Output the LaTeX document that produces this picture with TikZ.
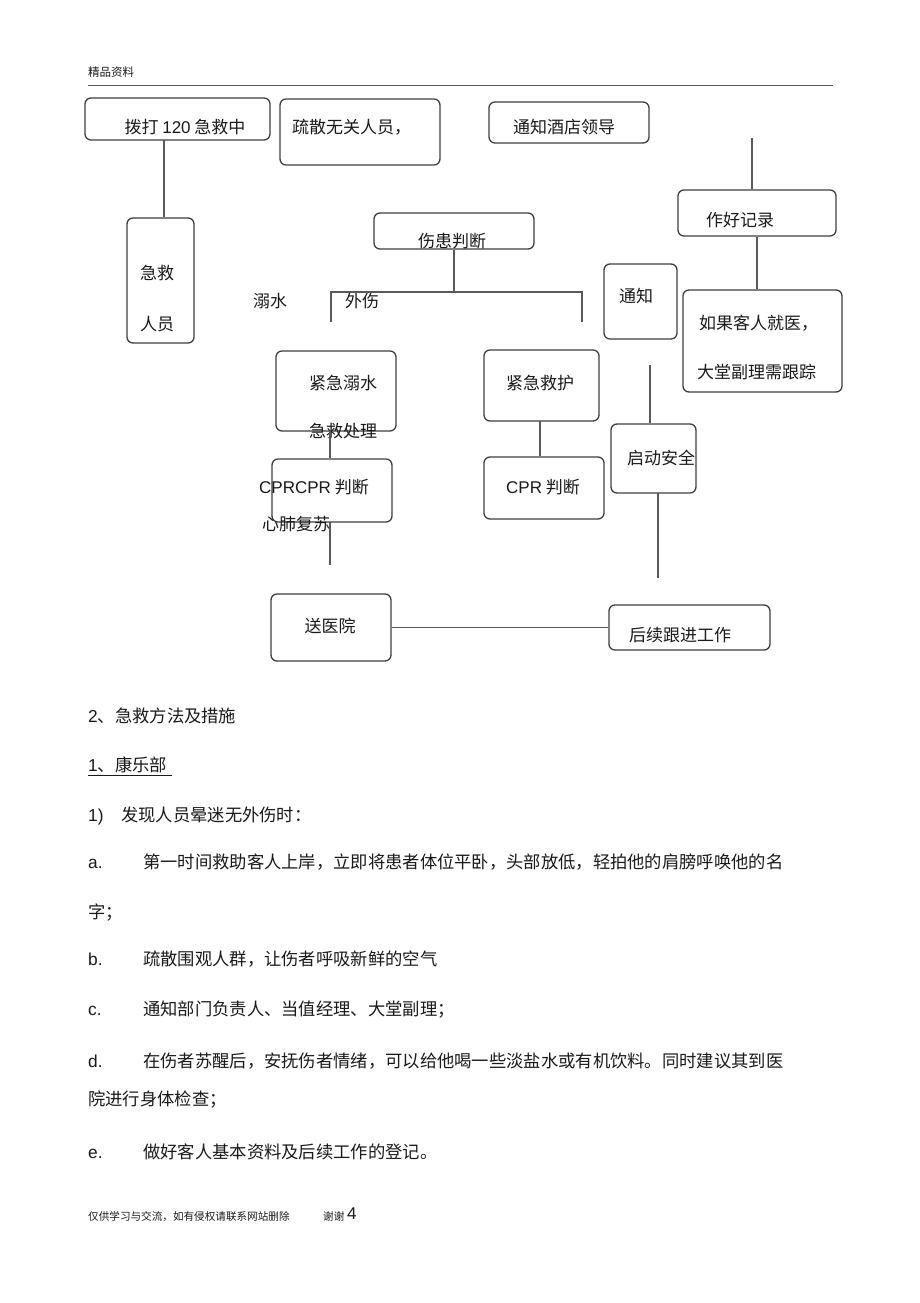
\documentclass[tikz,border=0pt]{standalone}
\usepackage{fontspec}
\setmainfont{Noto Sans CJK SC}
\newfontfamily\lat{Liberation Sans}
\definecolor{boxc}{HTML}{404040}
\definecolor{linec}{HTML}{5A5A5A}
\definecolor{txtc}{HTML}{1A1A1A}
\begin{document}
\begin{tikzpicture}[x=1pt,y=-1pt,
  box/.style={draw=boxc,line width=1.3pt,rounded corners=6pt,inner sep=0pt},
  conn/.style={draw=linec,line width=1.3pt},
  ct/.style={inner sep=0pt,text=txtc,text height=14pt,text depth=3pt,font=\fontsize{17}{20}\selectfont},
  bt/.style={inner sep=0pt,anchor=west,text=txtc,text height=14pt,text depth=3pt,font=\fontsize{17.3}{20}\selectfont},
  sm/.style={inner sep=0pt,anchor=west,text=txtc,text height=9pt,text depth=2pt,font=\fontsize{10.6}{12}\selectfont}]
\useasboundingbox[fill=white] (0,0) rectangle (920,1303);
% header
\node[sm,font=\fontsize{11.5}{13}\selectfont] (hdr) at (88,73) {精品资料};
\coordinate (hl) at (88,85); \coordinate (hr) at (833,85);
\draw[draw=linec,line width=0.8pt] (hl) -- (hr);
% boxes
\node[box,minimum width=185pt,minimum height=42pt] (b1) at (177.5,119) {};
\node[box,minimum width=160pt,minimum height=66pt] (b2) at (360,132) {};
\node[box,minimum width=160pt,minimum height=41pt] (b3) at (569,122.5) {};
\node[box,minimum width=67pt,minimum height=125pt] (jy) at (160.5,280.5) {};
\node[box,minimum width=158pt,minimum height=46pt] (rec) at (757,213) {};
\node[box,minimum width=159pt,minimum height=102pt] (fol) at (762.5,341) {};
\node[box,minimum width=160pt,minimum height=36pt] (judge) at (454,231) {};
\node[box,minimum width=73pt,minimum height=75pt] (notify) at (640.5,301.5) {};
\node[box,minimum width=120pt,minimum height=80pt] (drown) at (336,391) {};
\node[box,minimum width=120pt,minimum height=63pt] (cpr1) at (332,490.5) {};
\node[box,minimum width=115pt,minimum height=71pt] (emerg) at (541.5,385.5) {};
\node[box,minimum width=120pt,minimum height=62pt] (cpr2) at (544,488) {};
\node[box,minimum width=85pt,minimum height=69pt] (safe) at (653.5,458.5) {};
\node[box,minimum width=120pt,minimum height=67pt] (hosp) at (331,627.5) {};
\node[box,minimum width=161pt,minimum height=45pt] (follow) at (689.5,627.5) {};
% box texts
\node[ct] (t1) at (185,128) {拨打 {\lat 120} 急救中};
\node[ct,anchor=west] (t2) at (292,128) {疏散无关人员，};
\node[ct] (t3) at (564,128) {通知酒店领导};
\node[ct] (t4a) at (157,274) {急救};
\node[ct] (t4b) at (157,325) {人员};
\node[ct] (t5) at (740,221) {作好记录};
\node[ct,anchor=west] (t6a) at (699,324) {如果客人就医，};
\node[ct,anchor=west] (t6b) at (697,373) {大堂副理需跟踪};
\node[ct] (t7) at (452,242) {伤患判断};
\node[ct] (t8a) at (270,302) {溺水};
\node[ct] (t8b) at (362,302) {外伤};
\node[ct] (t9) at (636,297) {通知};
\node[ct] (t10a) at (343,384) {紧急溺水};
\node[ct] (t10b) at (343,432) {急救处理};
\node[ct,anchor=west] (t11a) at (259,488) {{\lat CPRCPR} 判断};
\node[ct,anchor=west] (t11b) at (262,525) {心肺复苏};
\node[ct] (t12) at (540,384) {紧急救护};
\node[ct] (t13) at (543,488) {{\lat CPR} 判断};
\node[ct,anchor=west] (t14) at (627,459) {启动安全};
\node[ct] (t15) at (330,627) {送医院};
\node[ct] (t16) at (680,636) {后续跟进工作};
% connectors
\coordinate (c0) at (164,140);
\draw[conn] (c0) -- (c0 |- jy.north);
\coordinate (c1) at (752,138);
\draw[conn] (c1) -- (c1 |- rec.north);
\draw[conn] (rec.south) -- (rec.south |- fol.north);
\coordinate (br) at (454,292);
\coordinate (bl) at (331,322);
\coordinate (brr) at (582,322);
\draw[conn] (judge.south) -- (br);
\draw[conn] (bl) |- (br) -| (brr);
\coordinate (c2) at (330,431);
\draw[conn] (c2) -- (c2 |- cpr1.north);
\coordinate (c3) at (330,522);
\coordinate (c4) at (330,565);
\draw[conn] (c3) -- (c4);
\coordinate (c8) at (540,421);
\draw[conn] (c8) -- (c8 |- cpr2.north);
\coordinate (c5) at (650,365);
\draw[conn] (c5) -- (c5 |- safe.north);
\coordinate (c6) at (658,493);
\coordinate (c7) at (658,578);
\draw[conn] (c6) -- (c7);
\draw[conn] (hosp.east) -- (hosp.east -| follow.west);
% body text
\node[bt] (p1) at (88,717) {{\lat 2}、急救方法及措施};
\node[bt] (p2) at (88,766) {{\lat 1}、康乐部};
\coordinate (u1) at (88,775); \coordinate (u2) at (172,775);
\draw[draw=txtc,line width=0.7pt] (u1) -- (u2);
\node[bt] (p3l) at (88,816) {\lat 1)};
\node[bt] (p3) at (121,816) {发现人员晕迷无外伤时：};
\node[bt] (pal) at (88,863) {\lat a.};
\node[bt] (pa) at (143,863) {第一时间救助客人上岸，立即将患者体位平卧，头部放低，轻拍他的肩膀呼唤他的名};
\node[bt] (pa2) at (88,913) {字；};
\node[bt] (pbl) at (88,960) {\lat b.};
\node[bt] (pb) at (143,960) {疏散围观人群，让伤者呼吸新鲜的空气};
\node[bt] (pcl) at (88,1010) {\lat c.};
\node[bt] (pc) at (143,1010) {通知部门负责人、当值经理、大堂副理；};
\node[bt] (pdl) at (88,1062) {\lat d.};
\node[bt] (pd) at (143,1062) {在伤者苏醒后，安抚伤者情绪，可以给他喝一些淡盐水或有机饮料。同时建议其到医};
\node[bt] (pd2) at (88,1100) {院进行身体检查；};
\node[bt] (pel) at (88,1153) {\lat e.};
\node[bt] (pe) at (143,1153) {做好客人基本资料及后续工作的登记。};
% footer
\node[sm] (f1) at (88,1217) {仅供学习与交流，如有侵权请联系网站删除};
\node[sm] (f2) at (323,1217) {谢谢};
\node[sm,font=\lat\fontsize{17}{20}\selectfont] (f3) at (347,1216) {4};
\end{tikzpicture}
\end{document}
